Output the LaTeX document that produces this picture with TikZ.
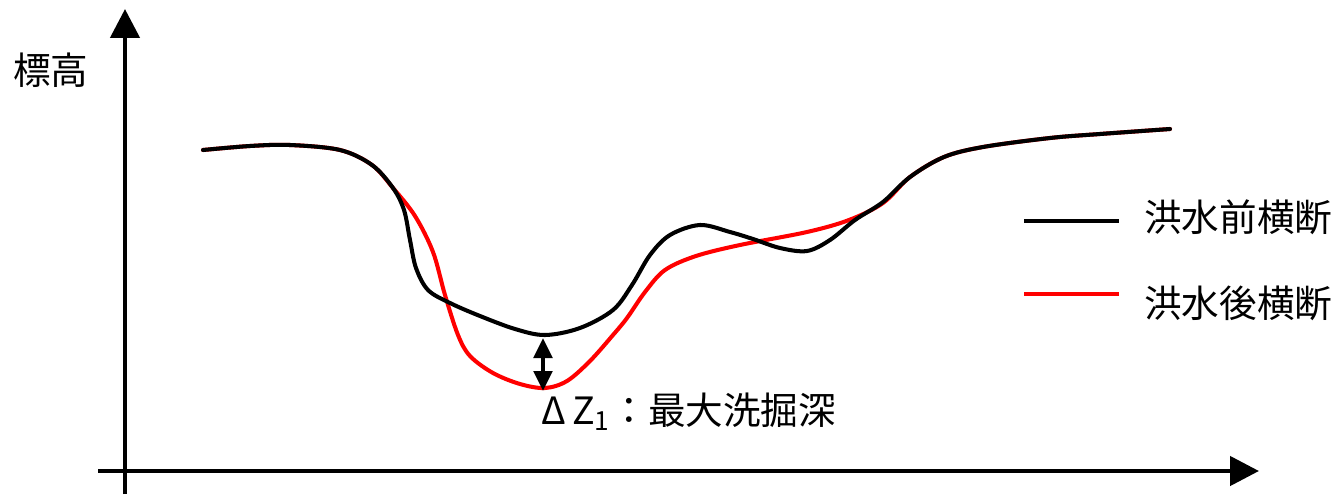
\documentclass[tikz,border=0pt]{standalone}
\usepackage{fontspec}
\newfontfamily\cjk{Noto Sans CJK JP}
\usetikzlibrary{arrows.meta}
\begin{document}
\begin{tikzpicture}[x=0.02cm,y=-0.02cm,
  axis/.style={line width=2.6pt,-{Triangle[length=0.58cm,width=0.58cm]}},
  curve/.style={line width=2.3pt,line join=round,line cap=round},
  lbl/.style={font=\cjk\fontsize{21.4}{24}\selectfont,inner sep=0pt}]
\useasboundingbox (0,0) rectangle (1336,494);
% axes
\coordinate (xs) at (98,471);
\coordinate (xe) at (1259,471);
\coordinate (ys) at (125,494);
\coordinate (ye) at (125,9);
\draw[axis] (xs) -- (xe);
\draw[axis] (ys) -- (ye);
\node[lbl,anchor=west] (ylab) at (13,70) {標高};
% after-flood (red)
\draw[curve,red] plot[smooth,tension=0.55] coordinates {
 (203,150) (250,146) (290,145) (340,150) (372,165) (393,188) (415,216) (433,252)
 (445,295) (458,335) (470,356) (493,373) (520,384) (545,388) (567,381) (590,361)
 (613,335) (627,318) (645,292) (665,270) (696,256) (740,245) (807,232) (849,220)
 (883,203) (910,177) (944,157) (983,147) (1050,138) (1100,134) (1170,129)};
% before-flood (black)
\draw[curve,black] plot[smooth,tension=0.55] coordinates {
 (203,150) (250,146) (290,145) (340,150) (372,165) (393,188) (404,210) (410,240)
 (416,268) (428,290) (450,303) (480,316) (515,329) (545,335) (580,328) (613,310)
 (632,285) (650,255) (670,235) (700,225) (730,232) (753,239) (780,248) (807,251)
 (830,240) (855,220) (883,202) (910,177) (944,157) (983,147) (1050,138) (1100,134) (1170,129)};
% max scour depth arrow
\coordinate (ztop) at (543,338);
\coordinate (zbot) at (543,391);
\draw[line width=2.3pt,{Triangle[length=0.4cm,width=0.37cm]}-{Triangle[length=0.4cm,width=0.37cm]}] (ztop) -- (zbot);
\node[lbl,anchor=west] (dz) at (541,412) {Δ\,Z\textsubscript{1}：最大洗掘深};
% legend
\coordinate (l1a) at (1024,221); \coordinate (l1b) at (1119,221);
\coordinate (l2a) at (1024,294); \coordinate (l2b) at (1119,294);
\draw[line width=2.4pt,black] (l1a) -- (l1b);
\draw[line width=2.4pt,red] (l2a) -- (l2b);
\node[lbl,anchor=west] (leg1) at (1144,217) {洪水前横断};
\node[lbl,anchor=west] (leg2) at (1144,303) {洪水後横断};
\end{tikzpicture}
\end{document}
